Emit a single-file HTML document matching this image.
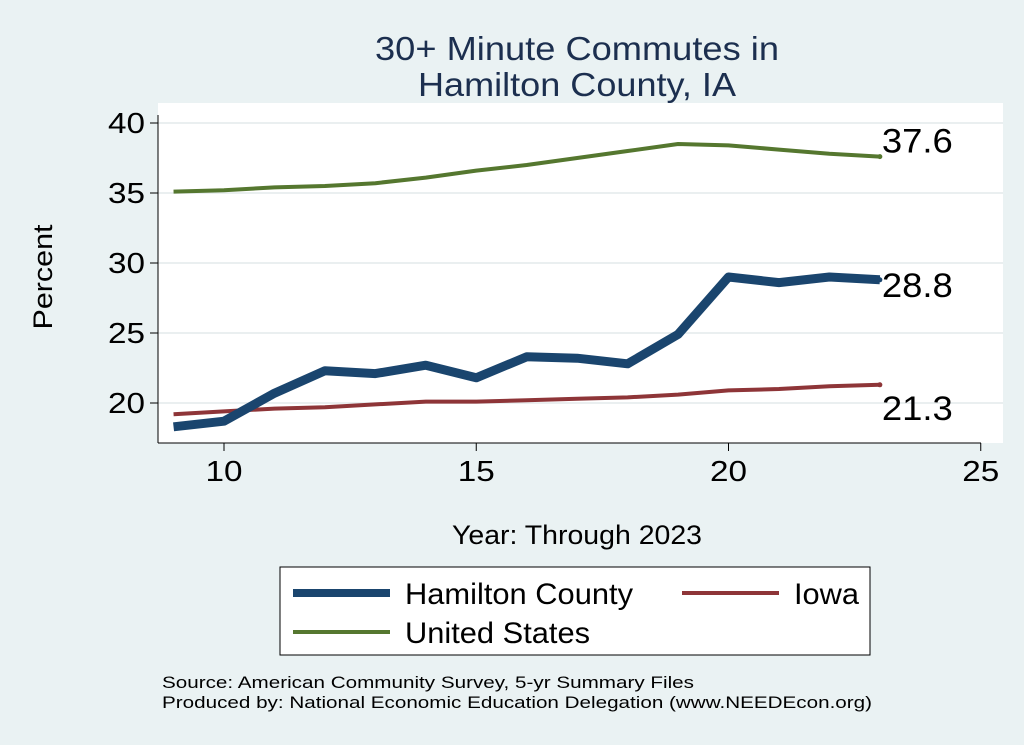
<!DOCTYPE html>
<html><head><meta charset="utf-8"><style>
body{margin:0;background:#eaf2f3;font-family:"Liberation Sans",Arial,sans-serif}
svg{display:block}
</style></head><body>
<svg width="1024" height="745" viewBox="0 0 1024 745" id="chart">
<rect x="0" y="0" width="1024" height="745" fill="#eaf2f3"/>
<text x="577" y="60" font-size="33" fill="#1c2f4f" text-anchor="middle" textLength="404" lengthAdjust="spacingAndGlyphs">30+ Minute Commutes in</text>
<text x="577" y="96" font-size="33" fill="#1c2f4f" text-anchor="middle" textLength="318" lengthAdjust="spacingAndGlyphs">Hamilton County, IA</text>
<rect x="158" y="103" width="845" height="340" fill="#fff"/>
<g id="grid"></g>
<g id="axes"></g>
<g id="series"></g>
<text x="52" y="277" font-size="27" text-anchor="middle" textLength="105" lengthAdjust="spacingAndGlyphs" transform="rotate(-90 52 277)">Percent</text>
<text x="577" y="544" font-size="27" text-anchor="middle" textLength="250" lengthAdjust="spacingAndGlyphs">Year: Through 2023</text>
<g>
<rect x="280" y="567" width="590" height="88" fill="#fff" stroke="#000" stroke-width="1"/>
<g><line x1="293" y1="593" x2="390" y2="593" stroke="#1a456e" stroke-width="8"/><text x="405" y="604" font-size="30" textLength="228" lengthAdjust="spacingAndGlyphs">Hamilton County</text></g>
<g><line x1="682" y1="593" x2="779" y2="593" stroke="#8e3538" stroke-width="4"/><text x="794" y="604" font-size="30" textLength="65" lengthAdjust="spacingAndGlyphs">Iowa</text></g>
<g><line x1="293" y1="632" x2="390" y2="632" stroke="#55772f" stroke-width="4"/><text x="405" y="643" font-size="30" textLength="185" lengthAdjust="spacingAndGlyphs">United States</text></g>
</g>
<text x="162" y="688" font-size="17" textLength="532" lengthAdjust="spacingAndGlyphs">Source: American Community Survey, 5-yr Summary Files</text>
<text x="162" y="708" font-size="17" textLength="710" lengthAdjust="spacingAndGlyphs">Produced by: National Economic Education Delegation (www.NEEDEcon.org)</text>
</svg>
<script>
const years=[9,10,11,12,13,14,15,16,17,18,19,20,21,22,23];
const hamilton=[18.3,18.7,20.7,22.3,22.1,22.7,21.8,23.3,23.2,22.8,24.9,29.0,28.6,29.0,28.8];
const iowa=[19.2,19.4,19.6,19.7,19.9,20.1,20.1,20.2,20.3,20.4,20.6,20.9,21.0,21.2,21.3];
const us=[35.1,35.2,35.4,35.5,35.7,36.1,36.6,37.0,37.5,38.0,38.5,38.4,38.1,37.8,37.6];
const xTicks=[10,15,20,25];
const yTicks=[20,25,30,35,40];
const NS='http://www.w3.org/2000/svg';
const X=v=>224+(v-10)*50.45;
const Y=v=>403-(v-20)*14;
function mk(t,a,p){const e=document.createElementNS(NS,t);for(const k in a)e.setAttribute(k,a[k]);p.appendChild(e);return e;}
const grid=document.getElementById('grid'),axes=document.getElementById('axes'),ser=document.getElementById('series');
yTicks.forEach(v=>{
 const g=mk('line',{x1:158,x2:1003,y1:Y(v),y2:Y(v),stroke:'#e4eaec','stroke-width':1.5},grid);
 
 
 mk('line',{x1:150,x2:158,y1:Y(v),y2:Y(v),stroke:'#000'},axes);
 const t=mk('text',{x:145,y:Y(v)+10,'font-size':29,'text-anchor':'end',textLength:37,lengthAdjust:'spacingAndGlyphs'},axes);t.textContent=v;
 
 
});
xTicks.forEach(v=>{
 mk('line',{x1:X(v),x2:X(v),y1:443,y2:451,stroke:'#000'},axes);
 const t=mk('text',{x:X(v),y:481,'font-size':29,'text-anchor':'middle',textLength:37,lengthAdjust:'spacingAndGlyphs'},axes);t.textContent=v;
 
 
});
mk('line',{x1:158,x2:158,y1:115,y2:443,stroke:'#000'},axes);
mk('line',{x1:158,x2:981,y1:443,y2:443,stroke:'#000'},axes);
function draw(d,col,w,name,ly){
 const p=mk('polyline',{points:d.map((v,i)=>X(years[i])+','+Y(v)).join(' '),fill:'none',stroke:col,'stroke-width':w,'stroke-linejoin':'round'},ser);
 
 
 const last=d[d.length-1];
 mk('circle',{cx:X(years[years.length-1]),cy:Y(last),r:2.5,fill:col},ser);
 const t=mk('text',{x:X(years[years.length-1])+2,y:Y(last)+ly,'font-size':34,textLength:71,lengthAdjust:'spacingAndGlyphs'},ser);t.textContent=last.toFixed(1);
 
 
}
draw(us,'#55772f',4,'us-line',-4);
draw(iowa,'#8e3538',4,'iowa-line',35);
draw(hamilton,'#1a456e',9,'hamilton-line',17);
</script>
</body></html>
